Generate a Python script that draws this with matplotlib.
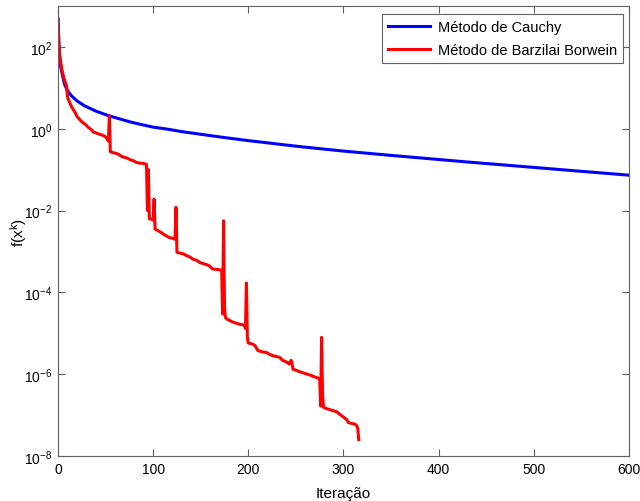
import numpy as np
import matplotlib
matplotlib.use("Agg")
import matplotlib.pyplot as plt
from matplotlib.ticker import FixedLocator, NullLocator

plt.rcParams['font.family'] = ['Liberation Sans', 'DejaVu Sans']
plt.rcParams['mathtext.default'] = 'regular'

# Cauchy method (iteration, log10 f)
cauchy_iter = [0, 1, 2, 3, 5, 7, 10, 14, 20, 28, 40, 53, 65, 77, 90, 100, 115, 130,
               150, 170, 200, 254, 300, 350, 429, 480, 534, 600]
cauchy_log = [2.68, 2.05, 1.72, 1.50, 1.28, 1.08, 0.93, 0.81, 0.68, 0.56, 0.43, 0.32,
              0.24, 0.16, 0.09, 0.04, -0.01, -0.07, -0.135, -0.20, -0.29, -0.436,
              -0.546, -0.651, -0.81, -0.907, -1.01, -1.135]

# Barzilai-Borwein method (iteration, log10 f)
bb_iter = [0, 1, 2, 4, 6, 8, 9, 10, 12, 14, 16, 18, 20, 23, 26, 28, 30, 32, 35, 37,
           40, 43, 46, 49, 51, 52, 53, 54, 55, 57, 61, 64, 67, 70, 73, 76, 79, 82,
           86, 90, 92, 93, 94, 95, 96, 98, 100, 101, 102, 105, 108, 111, 114, 117,
           121, 123, 124, 125, 128, 132, 135, 139, 142, 146, 149, 153, 156, 159,
           161, 163, 168, 172, 173, 174, 175, 176, 178, 180, 183, 187, 191, 194,
           196, 197, 198, 199, 200, 204, 207, 210, 214, 219, 223, 226, 230, 233,
           236, 240, 243, 245, 246, 247, 251, 254, 258, 262, 266, 270, 274, 275,
           276, 277, 278, 279, 282, 286, 290, 293, 296, 299, 301, 303, 305, 308,
           312, 314, 315, 316]
bb_log = [2.68, 2.05, 1.75, 1.46, 1.25, 1.12, 1.05, 0.78, 0.65, 0.55, 0.47, 0.40,
          0.30, 0.22, 0.15, 0.12, 0.08, 0.03, -0.02, -0.08, -0.10, -0.13, -0.15,
          -0.18, -0.22, -0.27, -0.30, 0.32, -0.56, -0.58, -0.60, -0.63, -0.68,
          -0.70, -0.72, -0.76, -0.78, -0.82, -0.84, -0.85, -0.86, -0.88, -2.0,
          -1.0, -2.2, -2.21, -2.23, -1.72, -2.45, -2.49, -2.53, -2.58, -2.62,
          -2.66, -2.68, -2.70, -1.92, -3.02, -3.04, -3.06, -3.10, -3.14, -3.19,
          -3.22, -3.27, -3.30, -3.32, -3.35, -3.40, -3.43, -3.44, -3.46, -4.53,
          -2.25, -4.40, -4.62, -4.66, -4.68, -4.72, -4.75, -4.78, -4.79, -4.81,
          -4.88, -3.77, -5.10, -5.24, -5.26, -5.30, -5.42, -5.45, -5.47, -5.52,
          -5.55, -5.57, -5.59, -5.66, -5.70, -5.75, -5.66, -5.75, -5.88, -5.91,
          -5.94, -5.97, -6.00, -6.03, -6.07, -6.10, -6.12, -6.78, -5.10, -6.5,
          -6.81, -6.84, -6.87, -6.90, -6.92, -6.98, -7.03, -7.06, -7.10, -7.18,
          -7.20, -7.22, -7.26, -7.32, -7.60]

x_ticks = [0, 100, 200, 300, 400, 500, 600]
y_exps = [-8, -6, -4, -2, 0, 2]

fig = plt.figure(figsize=(6.40, 5.02), dpi=100)
ax = fig.add_axes([0.0906, 0.0896, 0.8922, 0.8964])

ax.plot(cauchy_iter, 10.0 ** np.array(cauchy_log), color='#0000ff', lw=2.2,
        label='Método de Cauchy')
ax.plot(bb_iter, 10.0 ** np.array(bb_log), color='#ff0000', lw=2.2,
        label='Método de Barzilai Borwein')

ax.set_yscale('log')
ax.set_xlim(0, 600)
ax.set_ylim(1e-8, 1e3)
ax.xaxis.set_major_locator(FixedLocator(x_ticks))
ax.set_xticklabels([str(t) for t in x_ticks])
ax.yaxis.set_major_locator(FixedLocator([10.0 ** e for e in y_exps]))
ax.yaxis.set_minor_locator(NullLocator())
ax.set_yticklabels([r'$10^{%d}$' % e for e in y_exps])

for s in ax.spines.values():
    s.set_color('#606060')
    s.set_linewidth(0.8)
ax.tick_params(which='both', direction='in', top=True, right=True, length=5,
               color='#606060', labelsize=10, labelcolor='black', pad=4)

ax.set_xlabel('Iteração', fontsize=11)
ax.set_ylabel('f(x$^k$)', fontsize=11)
ax.xaxis.set_label_coords(0.5, -0.066)
ax.yaxis.set_label_coords(-0.05, 0.5)

leg = ax.legend(loc='upper right', bbox_to_anchor=(0.9888, 0.982),
                borderaxespad=0, fontsize=10.5, frameon=True, fancybox=False,
                edgecolor='#606060', framealpha=1, handlelength=2.9,
                labelspacing=0.6, borderpad=0.4, handletextpad=0.5)
leg.get_frame().set_linewidth(0.8)

fig.savefig('out.png', dpi=100)
